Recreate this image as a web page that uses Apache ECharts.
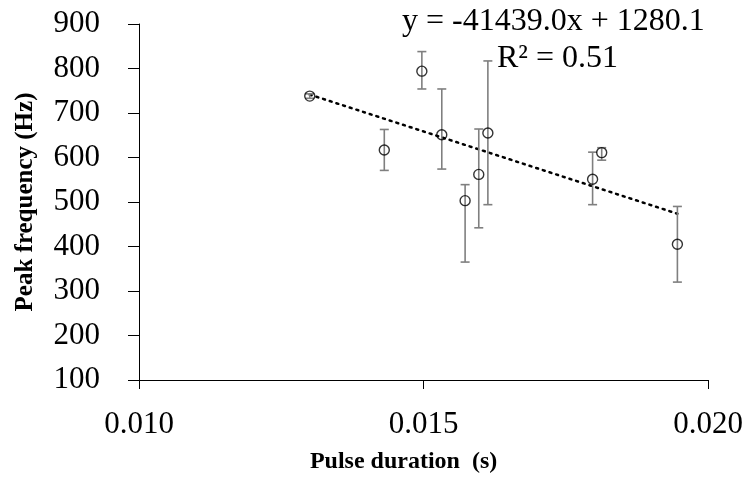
<!DOCTYPE html>
<html>
<head>
<meta charset="utf-8">
<script src="https://cdn.jsdelivr.net/npm/echarts@6/dist/echarts.min.js"></script>
<style>html,body{margin:0;padding:0;background:#fff}#c{width:746px;height:481px}</style>
</head>
<body>
<div id="c"></div>
<script>
// Data
var pulseDuration = [0.01300, 0.01431, 0.01497, 0.01532, 0.01573, 0.01597, 0.01613, 0.01797, 0.01813, 0.01946];
var peakFreq      = [738, 617, 794, 651, 503, 562, 655, 551, 611, 405];
var errLow        = [733, 571, 754, 574, 365, 442, 494, 494, 594, 320];
var errHigh       = [743, 663, 838, 754, 539, 664, 817, 612, 622, 490];
var trendSlope = -41439.0;
var trendIntercept = 1280.1;
var trendX = [0.01300, 0.01946];
var xTicks = { min: 0.010, max: 0.020, interval: 0.005 };
var yTicks = { min: 100, max: 900, interval: 100 };
var eqText = 'y = -41439.0x + 1280.1';
var r2Text = 'R² = 0.51';

var FONT = '"Liberation Serif", "Times New Roman", serif';
var scatterData = pulseDuration.map(function (x, i) { return [x, peakFreq[i]]; });
var errData = pulseDuration.map(function (x, i) { return [x, errLow[i], errHigh[i]]; });
var trendData = trendX.map(function (x) { return [x, trendSlope * x + trendIntercept]; });

var chart = echarts.init(document.getElementById('c'), null, { renderer: 'canvas' });
chart.setOption({
  animation: false,
  backgroundColor: '#fff',
  grid: { left: 139, right: 35, top: 24, bottom: 101 },
  xAxis: {
    type: 'value', min: xTicks.min, max: xTicks.max, interval: xTicks.interval,
    name: 'Pulse duration  (s)', nameLocation: 'middle', nameGap: 70,
    nameTextStyle: { fontFamily: FONT, fontSize: 24, fontWeight: 'bold', color: '#000', padding: [0, 40, 0, 0] },
    axisLine: { onZero: false, lineStyle: { color: '#000', width: 1 } },
    axisTick: { show: true, inside: false, length: 9, lineStyle: { color: '#000' } },
    axisLabel: { fontFamily: FONT, fontSize: 31, color: '#000', margin: 29,
      formatter: function (v) { return v.toFixed(3); } },
    splitLine: { show: false }
  },
  yAxis: {
    type: 'value', min: yTicks.min, max: yTicks.max, interval: yTicks.interval,
    name: 'Peak frequency (Hz)', nameLocation: 'middle', nameGap: 101, nameRotate: 90,
    nameTextStyle: { fontFamily: FONT, fontSize: 25, fontWeight: 'bold', color: '#000' },
    axisLine: { show: true, onZero: false, lineStyle: { color: '#000', width: 1 } },
    axisTick: { show: true, inside: false, length: 11, lineStyle: { color: '#000' } },
    axisLabel: { fontFamily: FONT, fontSize: 31, color: '#000', margin: 39 },
    splitLine: { show: false }
  },
  graphic: [
    { type: 'text', left: 402, top: 6, style: { text: eqText, font: '32px ' + FONT, fill: '#000' }, z: 100 },
    { type: 'text', left: 497, top: 43, style: { text: r2Text, font: '32px ' + FONT, fill: '#000' }, z: 100 }
  ],
  series: [
    {
      type: 'line', data: trendData, symbol: 'none', z: 2,
      lineStyle: { color: '#000', width: 2.5, type: [2, 5], cap: 'round' }
    },
    {
      type: 'custom', data: errData, z: 3,
      renderItem: function (params, api) {
        var x = api.value(0);
        var lo = api.coord([x, api.value(1)]);
        var hi = api.coord([x, api.value(2)]);
        var hw = 4.5;
        var st = { stroke: '#7f7f7f', lineWidth: 1.6 };
        return { type: 'group', children: [
          { type: 'line', shape: { x1: lo[0], y1: lo[1], x2: hi[0], y2: hi[1] }, style: st },
          { type: 'line', shape: { x1: lo[0] - hw, y1: lo[1], x2: lo[0] + hw, y2: lo[1] }, style: st },
          { type: 'line', shape: { x1: hi[0] - hw, y1: hi[1], x2: hi[0] + hw, y2: hi[1] }, style: st }
        ] };
      }
    },
    {
      type: 'scatter', data: scatterData, symbol: 'circle', symbolSize: 10, z: 4,
      itemStyle: { color: 'rgba(255,255,255,0)', borderColor: '#000', borderWidth: 1.4 }
    }
  ]
});
</script>
</body>
</html>
